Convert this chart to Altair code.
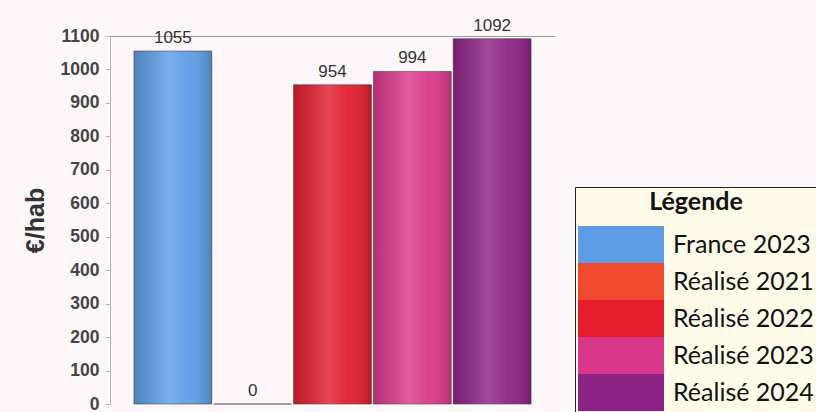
import altair as alt
import pandas as pd

# Dépenses par habitant (€/hab)
categories = ["France 2023", "Réalisé 2021", "Réalisé 2022", "Réalisé 2023", "Réalisé 2024"]
values = [1055, 0, 954, 994, 1092]
colors = ["#5e9de6", "#ef4a2e", "#e11d2e", "#d9388a", "#8c2384"]
y_ticks = [0, 100, 200, 300, 400, 500, 600, 700, 800, 900, 1000, 1100]

df = pd.DataFrame({"serie": categories, "valeur": values})

# wide rectangular swatch for the legend table
swatch_path = "M-1,-0.43H1V0.43H-1Z"

x_enc = alt.X(
    "serie:N",
    sort=categories,
    scale=alt.Scale(paddingInner=0.025, paddingOuter=0.3),
    axis=alt.Axis(orient="top", labels=False, ticks=False, title=None,
                  domainColor="#9a9a9a", domainWidth=1),
)
y_enc = alt.Y(
    "valeur:Q",
    scale=alt.Scale(domain=[0, 1100], nice=False),
    axis=alt.Axis(
        values=y_ticks, format="d", labelOverlap=False, title="€/hab", grid=False,
        domainColor="#b5b5b5", tickColor="#b5b5b5", tickSize=5,
        labelFont="Liberation Sans", labelFontSize=17.5, labelFontWeight="bold",
        labelColor="#444444", labelPadding=6,
        titleFont="Liberation Sans", titleFontSize=25, titleFontWeight="bold",
        titleColor="#333333", titlePadding=12,
    ),
)

bars = alt.Chart(df).mark_bar(stroke="#3a3a3a", strokeWidth=0.8, strokeOpacity=0.7).encode(
    x=x_enc,
    y=y_enc,
    color=alt.Color(
        "serie:N",
        sort=categories,
        scale=alt.Scale(domain=categories, range=colors),
        legend=alt.Legend(
            title="Légende", orient="none", legendX=465, legendY=151,
            symbolType=swatch_path, symbolSize=7396, symbolStrokeWidth=0,
            clipHeight=37, rowPadding=0, labelOffset=9, labelLimit=400,
            labelFont="Lato", labelFontSize=25, labelColor="#111111",
            titleFont="Lato", titleFontSize=25, titleFontWeight="bold",
            titleColor="#111111", titleAnchor="middle", titlePadding=11,
            padding=3, fillColor="#fffbe9", strokeColor="#222222",
        ),
    ),
)

# soft cylindrical shading over each bar
shade = alt.LinearGradient(
    gradient="linear", x1=0, x2=1, y1=0, y2=0,
    stops=[
        alt.GradientStop(color="rgba(0,0,0,0.16)", offset=0),
        alt.GradientStop(color="rgba(255,255,255,0.18)", offset=0.45),
        alt.GradientStop(color="rgba(255,255,255,0.05)", offset=0.7),
        alt.GradientStop(color="rgba(0,0,0,0.18)", offset=1),
    ],
)
gloss = alt.Chart(df).mark_bar(fill=shade).encode(x=x_enc, y=y_enc)

labels = alt.Chart(df).mark_text(
    baseline="bottom", dy=-4, font="Liberation Sans", fontSize=17, color="#333333"
).encode(x=x_enc, y=y_enc, text="valeur:Q")

chart = (
    alt.layer(bars, gloss, labels)
    .properties(
        width=445, height=368,
        padding={"left": 110, "top": 36, "right": 261, "bottom": 8},
        autosize=alt.AutoSizeParams(type="none"),
        background="#fdf7fa",
    )
    .configure_view(stroke=None)
)

chart.save("out.html", embed_options={"renderer": "svg", "actions": False})
